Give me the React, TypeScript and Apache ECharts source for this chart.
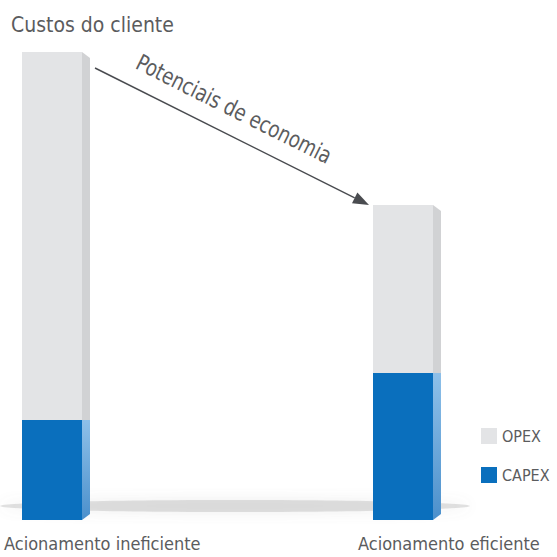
import React, { useEffect, useRef } from "react";
import * as echarts from "echarts";

const categories = ["Acionamento ineficiente", "Acionamento eficiente"];
const capex = [100, 147];
const opex = [368, 168];
const seriesNames = ["OPEX", "CAPEX"];
const titleText = "Custos do cliente";
const arrowText = "Potenciais de economia";

const FONT = "'DejaVu Sans Condensed', 'DejaVu Sans', sans-serif";
const TEXT_COLOR = "#5b5c5e";

function makeRender(front: any, side: any, isTop: boolean) {
  return (params: any, api: any) => {
    const x = api.value(0);
    const b = api.value(1);
    const t = api.value(2);
    const p0 = api.coord([x, b]);
    const p1 = api.coord([x, t]);
    const w = 60, d = 8, s = 6;
    const cx = p0[0];
    return {
      type: "group",
      children: [
        {
          type: "rect",
          shape: { x: cx - w / 2, y: p1[1], width: w, height: p0[1] - p1[1] },
          style: { fill: front },
        },
        {
          type: "polygon",
          shape: {
            points: [
              [cx + w / 2, p1[1]],
              [cx + w / 2 + d, p1[1] + (isTop ? s : 0)],
              [cx + w / 2 + d, p0[1] - (isTop ? 0 : s)],
              [cx + w / 2, p0[1]],
            ],
          },
          style: { fill: side },
        },
      ],
    };
  };
}

export default function App() {
  const ref = useRef<HTMLDivElement>(null);
  useEffect(() => {
    if (!ref.current) return;
    const chart = echarts.init(ref.current, undefined, { renderer: "svg" });
    const capexData = capex.map((v, i) => [i, 0, v]);
    const opexData = opex.map((v, i) => [i, capex[i], capex[i] + v]);

    // arrow geometry
    const sx = 95, sy = 68, tx = 369, ty = 205;
    const len = Math.hypot(tx - sx, ty - sy);
    const ux = (tx - sx) / len, uy = (ty - sy) / len;
    const ah = 16, aw = 6;
    const bx = tx - ux * ah, by = ty - uy * ah;
    const angle = Math.atan2(ty - sy, tx - sx);

    chart.setOption({
      animation: false,
      backgroundColor: "#ffffff",
      title: {
        text: titleText,
        left: 6,
        top: 9,
        textStyle: { fontFamily: FONT, fontSize: 21, fontWeight: "normal", color: TEXT_COLOR },
      },
      legend: {
        data: seriesNames,
        orient: "vertical",
        left: 476,
        top: 423,
        icon: "rect",
        itemWidth: 16,
        itemHeight: 16,
        itemGap: 23,
        textStyle: { fontFamily: FONT, fontSize: 16, color: TEXT_COLOR },
      },
      grid: [
        { left: 52, right: 154, top: 50, bottom: 37 },
        { left: 4, right: 199, top: 50, bottom: 37 },
      ],
      xAxis: [
        {
          type: "category",
          gridIndex: 0,
          data: categories,
          boundaryGap: false,
          axisLine: { show: false },
          axisTick: { show: false },
          axisLabel: { show: false },
        },
        {
          type: "category",
          gridIndex: 1,
          data: categories,
          boundaryGap: false,
          axisLine: { show: false },
          axisTick: { show: false },
          axisLabel: {
            show: true,
            interval: 0,
            align: "left",
            margin: 14,
            fontFamily: FONT,
            fontSize: 18,
            color: TEXT_COLOR,
          },
        },
      ],
      yAxis: [
        { type: "value", gridIndex: 0, min: 0, max: 470, show: false },
        { type: "value", gridIndex: 1, min: 0, max: 470, show: false },
      ],
      graphic: [
        {
          type: "ellipse",
          z: -10,
          shape: { cx: 235, cy: 506, rx: 235, ry: 6 },
          style: {
            fill: "rgba(160,160,160,0.30)",
            shadowBlur: 14,
            shadowColor: "rgba(120,120,120,0.45)",
          },
        },
        {
          type: "line",
          shape: { x1: sx, y1: sy, x2: bx, y2: by },
          style: { stroke: "#4a4c50", lineWidth: 1.5 },
        },
        {
          type: "polygon",
          shape: {
            points: [
              [tx, ty],
              [bx - uy * aw, by + ux * aw],
              [bx + uy * aw, by - ux * aw],
            ],
          },
          style: { fill: "#4a4c50" },
        },
        {
          type: "text",
          x: 234,
          y: 109,
          rotation: -angle,
          scaleX: 0.88,
          style: {
            text: arrowText,
            fontFamily: FONT,
            fontSize: 23,
            fill: TEXT_COLOR,
            align: "center",
            verticalAlign: "middle",
          },
        },
      ],
      series: [
        {
          name: "CAPEX",
          type: "custom",
          xAxisIndex: 0,
          yAxisIndex: 0,
          itemStyle: { color: "#0a6fbd" },
          encode: { x: 0, y: [1, 2] },
          data: capexData,
          renderItem: makeRender(
            "#0a6fbd",
            new echarts.graphic.LinearGradient(0, 0, 0, 1, [
              { offset: 0, color: "#8ec0e9" },
              { offset: 1, color: "#4b90cc" },
            ]),
            false
          ),
        },
        {
          name: "OPEX",
          type: "custom",
          xAxisIndex: 0,
          yAxisIndex: 0,
          itemStyle: { color: "#e3e4e6" },
          encode: { x: 0, y: [1, 2] },
          data: opexData,
          renderItem: makeRender("#e3e4e6", "#d1d2d4", true),
        },
      ],
    });
    return () => chart.dispose();
  }, []);
  return <div ref={ref} style={{ position: "fixed", left: 0, top: 0, width: 557, height: 557 }} />;
}
